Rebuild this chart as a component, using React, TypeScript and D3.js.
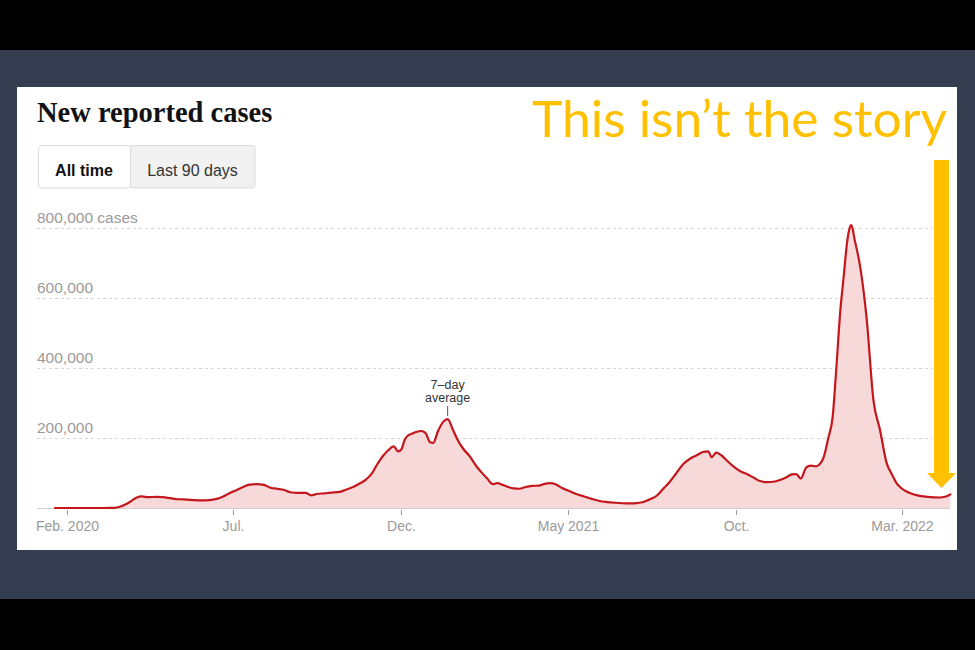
import React from 'react';
import * as d3 from 'd3';

// Seven-day average of new reported cases in the U.S.
const dates: string[] = [
  '2020-01-21', '2020-02-15', '2020-03-01', '2020-03-10', '2020-03-15', '2020-03-20', '2020-03-25', '2020-03-30',
  '2020-04-04', '2020-04-09', '2020-04-15', '2020-04-22', '2020-04-28', '2020-05-05', '2020-05-12', '2020-05-20',
  '2020-05-27', '2020-06-03', '2020-06-09', '2020-06-16', '2020-06-22', '2020-06-28', '2020-07-04', '2020-07-10',
  '2020-07-16', '2020-07-22', '2020-07-29', '2020-08-04', '2020-08-10', '2020-08-16', '2020-08-22', '2020-08-29',
  '2020-09-05', '2020-09-10', '2020-09-15', '2020-09-22', '2020-09-28', '2020-10-06', '2020-10-12', '2020-10-18',
  '2020-10-24', '2020-10-30', '2020-11-04', '2020-11-09', '2020-11-14', '2020-11-19', '2020-11-24', '2020-11-28',
  '2020-12-01', '2020-12-04', '2020-12-07', '2020-12-11', '2020-12-15', '2020-12-19', '2020-12-23', '2020-12-27',
  '2020-12-30', '2021-01-03', '2021-01-08', '2021-01-12', '2021-01-17', '2021-01-21', '2021-01-26', '2021-02-01',
  '2021-02-07', '2021-02-12', '2021-02-17', '2021-02-22', '2021-02-26', '2021-03-03', '2021-03-08', '2021-03-13',
  '2021-03-18', '2021-03-24', '2021-03-30', '2021-04-05', '2021-04-10', '2021-04-15', '2021-04-20', '2021-04-26',
  '2021-05-02', '2021-05-09', '2021-05-16', '2021-05-23', '2021-05-30', '2021-06-06', '2021-06-13', '2021-06-20',
  '2021-06-27', '2021-07-03', '2021-07-09', '2021-07-15', '2021-07-21', '2021-07-27', '2021-08-02', '2021-08-08',
  '2021-08-14', '2021-08-20', '2021-08-26', '2021-09-01', '2021-09-06', '2021-09-09', '2021-09-13', '2021-09-18',
  '2021-09-23', '2021-09-29', '2021-10-05', '2021-10-11', '2021-10-17', '2021-10-23', '2021-10-29', '2021-11-04',
  '2021-11-10', '2021-11-16', '2021-11-21', '2021-11-25', '2021-11-29', '2021-12-04', '2021-12-08', '2021-12-13',
  '2021-12-17', '2021-12-20', '2021-12-24', '2021-12-28', '2021-12-31', '2022-01-04', '2022-01-07', '2022-01-10',
  '2022-01-12', '2022-01-14', '2022-01-17', '2022-01-22', '2022-01-28', '2022-02-03', '2022-02-09', '2022-02-15',
  '2022-02-20', '2022-02-24', '2022-03-01', '2022-03-08', '2022-03-15', '2022-03-24', '2022-04-04', '2022-04-10',
  '2022-04-14',
];

const cases: number[] = [
  0, 0, 0, 100, 600, 3500, 10000, 19000,
  29000, 33000, 31000, 32000, 31000, 28000, 25000, 24000,
  22500, 22000, 22500, 26000, 33000, 43000, 51000, 60000,
  67000, 68000, 66000, 58000, 55000, 52000, 45000, 43000,
  43000, 36000, 40000, 42000, 44000, 46000, 53000, 60000,
  70000, 82000, 98000, 125000, 148000, 165000, 176000, 162000,
  168000, 195000, 207000, 213000, 218000, 220000, 214000, 188000,
  186000, 218000, 246000, 254000, 222000, 195000, 170000, 148000,
  120000, 101000, 84000, 68000, 71000, 66000, 60000, 56000,
  55000, 60000, 63000, 64000, 69000, 71000, 68000, 57000,
  49000, 40000, 33000, 26000, 20000, 17000, 15000, 13500,
  13000, 14000, 17000, 25000, 35000, 55000, 75000, 100000,
  125000, 140000, 150000, 160000, 162000, 145000, 158000, 150000,
  135000, 118000, 105000, 97000, 87000, 77000, 74000, 75000,
  80000, 88000, 96000, 97000, 84000, 116000, 121000, 119000,
  128000, 147000, 200000, 261000, 385000, 566000, 661000, 757000,
  795000, 808000, 766000, 689000, 537000, 309000, 223000, 129000,
  95000, 71000, 55000, 43000, 36000, 32000, 30000, 33000,
  39000,
];

const yTicks: number[] = [200000, 400000, 600000, 800000];
const xTickDates: string[] = ['2020-02-01', '2020-07-01', '2020-12-01', '2021-05-01', '2021-10-01', '2022-03-01'];
const xTickLabels: string[] = ['Feb. 2020', 'Jul.', 'Dec.', 'May 2021', 'Oct.', 'Mar. 2022'];
const buttonLabels: string[] = ['All time', 'Last 90 days'];
const annotationDate = '2021-01-12';
const annotationLines: string[] = ['7–day', 'average'];
const title = 'New reported cases';
const headline = 'This isn’t the story';

const W = 975;
const H = 650;
const parse = d3.utcParse('%Y-%m-%d');

type Point = { date: Date; value: number };
const series: Point[] = dates.map((d, i) => ({ date: parse(d) as Date, value: cases[i] }));

export default function App() {
  const x = d3
    .scaleUtc()
    .domain([parse('2020-02-01') as Date, parse('2022-03-01') as Date])
    .range([67, 902]);
  const y = d3.scaleLinear().domain([0, 800000]).range([508, 228]);

  const area = d3
    .area<Point>()
    .x((d) => x(d.date))
    .y0(y(0))
    .y1((d) => y(d.value))
    .curve(d3.curveMonotoneX);
  const line = d3
    .line<Point>()
    .x((d) => x(d.date))
    .y((d) => y(d.value))
    .curve(d3.curveMonotoneX);

  const fmt = d3.format(',');
  const sans = '"Liberation Sans", Arial, Helvetica, sans-serif';
  const gold = '#ffc000';

  const annX = x(parse(annotationDate) as Date);
  const annVal = cases[dates.indexOf(annotationDate)];

  return (
    <svg
      width={W}
      height={H}
      viewBox={`0 0 ${W} ${H}`}
      style={{ position: 'absolute', left: 0, top: 0, display: 'block' }}
    >
      {/* slide frame */}
      <rect x={0} y={0} width={W} height={H} fill="#000" />
      <rect x={0} y={50} width={W} height={549} fill="#343e50" />
      <rect x={17} y={87} width={940} height={463} fill="#fff" />

      {/* title */}
      <text
        x={37}
        y={122}
        fontFamily='"Liberation Serif", "Times New Roman", serif'
        fontWeight={700}
        fontSize={28.5}
        fill="#121212"
      >
        {title}
      </text>

      {/* range toggle */}
      <g fontFamily={sans} fontSize={16}>
        <rect x={130} y={145.5} width={125} height={42.5} rx={3} fill="#f1f1f1" stroke="#dcdcdc" />
        <rect x={38.5} y={145.5} width={92} height={42.5} rx={3} fill="#fff" stroke="#dcdcdc" />
        <text x={84} y={176} textAnchor="middle" fontWeight={700} fill="#121212">
          {buttonLabels[0]}
        </text>
        <text x={192.5} y={176} textAnchor="middle" fill="#333">
          {buttonLabels[1]}
        </text>
      </g>

      {/* gridlines and y labels */}
      <g fontFamily={sans} fontSize={15.5} fill="#9a9a9a">
        {yTicks.map((t, i) => (
          <g key={t}>
            <line
              x1={37}
              x2={933}
              y1={y(t) + 0.5}
              y2={y(t) + 0.5}
              stroke="#d6d6d6"
              strokeDasharray="3,3"
            />
            <text x={37} y={y(t) - 5}>
              {fmt(t) + (i === yTicks.length - 1 ? ' cases' : '')}
            </text>
          </g>
        ))}
      </g>

      {/* baseline */}
      <line x1={37} x2={950} y1={y(0) + 0.5} y2={y(0) + 0.5} stroke="#d0d0d0" />

      {/* area + line */}
      <path d={area(series) ?? ''} fill="#f7d9d9" />
      <path
        d={line(series) ?? ''}
        fill="none"
        stroke="#c4161c"
        strokeWidth={2.2}
        strokeLinejoin="round"
        strokeLinecap="round"
      />

      {/* x axis ticks */}
      <g fontFamily={sans} fontSize={14} fill="#9a9a9a">
        {xTickDates.map((d, i) => {
          const tx = Math.round(x(parse(d) as Date)) + 0.5;
          return (
            <g key={d}>
              <line x1={tx} x2={tx} y1={510} y2={515} stroke="#9a9a9a" />
              <text x={tx} y={531} textAnchor="middle">
                {xTickLabels[i]}
              </text>
            </g>
          );
        })}
      </g>

      {/* annotation */}
      <g fontFamily={sans} fontSize={12.5} fill="#333" textAnchor="middle">
        <text x={annX} y={389}>
          {annotationLines[0]}
        </text>
        <text x={annX} y={402}>
          {annotationLines[1]}
        </text>
        <line x1={annX} x2={annX} y1={406} y2={y(annVal) - 3} stroke="#555" strokeWidth={1} />
      </g>

      {/* headline and arrow */}
      <text
        x={532}
        y={137}
        fontFamily='Lato, "Open Sans", sans-serif'
        fontSize={51}
        fill={gold}
        textLength={415}
        lengthAdjust="spacingAndGlyphs"
      >
        {headline}
      </text>
      <rect x={934} y={160} width={15} height={314} fill={gold} />
      <path d="M927,473 L956,473 L941.5,488 Z" fill={gold} />
    </svg>
  );
}
